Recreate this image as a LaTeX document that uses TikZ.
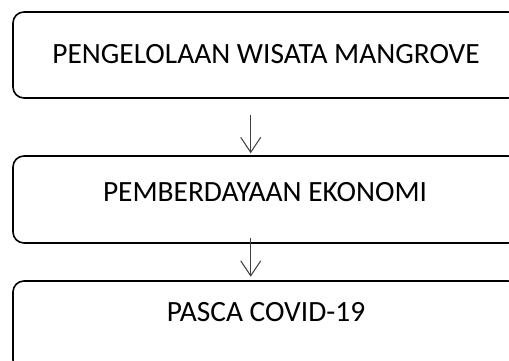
\documentclass[tikz,border=0pt]{standalone}
\usepackage{fontspec}
\setmainfont{Carlito}
\usetikzlibrary{arrows.meta}
\begin{document}
\begin{tikzpicture}[x=1pt,y=-1pt,
  boxstyle/.style={draw=black,line width=1.6pt,rounded corners=11pt,inner sep=0pt},
  labelstyle/.style={font=\fontsize{29.4}{35}\selectfont,inner sep=0pt,anchor=center},
  arr/.style={draw=black!75,line width=1pt,-{Straight Barb[length=15pt,width=20pt,line width=1pt]}}]
\useasboundingbox (0,0) rectangle (509,361);
\clip (0,0) rectangle (509,361);
\node[boxstyle,minimum width=506pt,minimum height=86pt] (b1) at (266,55) {};
\node[boxstyle,minimum width=506pt,minimum height=87pt] (b2) at (266,199.5) {};
\node[boxstyle,minimum width=506pt,minimum height=90pt] (b3) at (266,326) {};
\node[labelstyle] (t1) at (266,54) {PENGELOLAAN WISATA MANGROVE};
\node[labelstyle] (t2) at (265,192) {PEMBERDAYAAN EKONOMI};
\node[labelstyle] (t3) at (266,312.5) {PASCA COVID-19};
\coordinate (a1s) at (250.7,115);
\coordinate (a2s) at (250.7,238);
\draw[arr,shorten >=2pt] (a1s) -- (a1s |- b2.north);
\draw[arr,shorten >=3.5pt] (a2s) -- (a2s |- b3.north);
\end{tikzpicture}
\end{document}
